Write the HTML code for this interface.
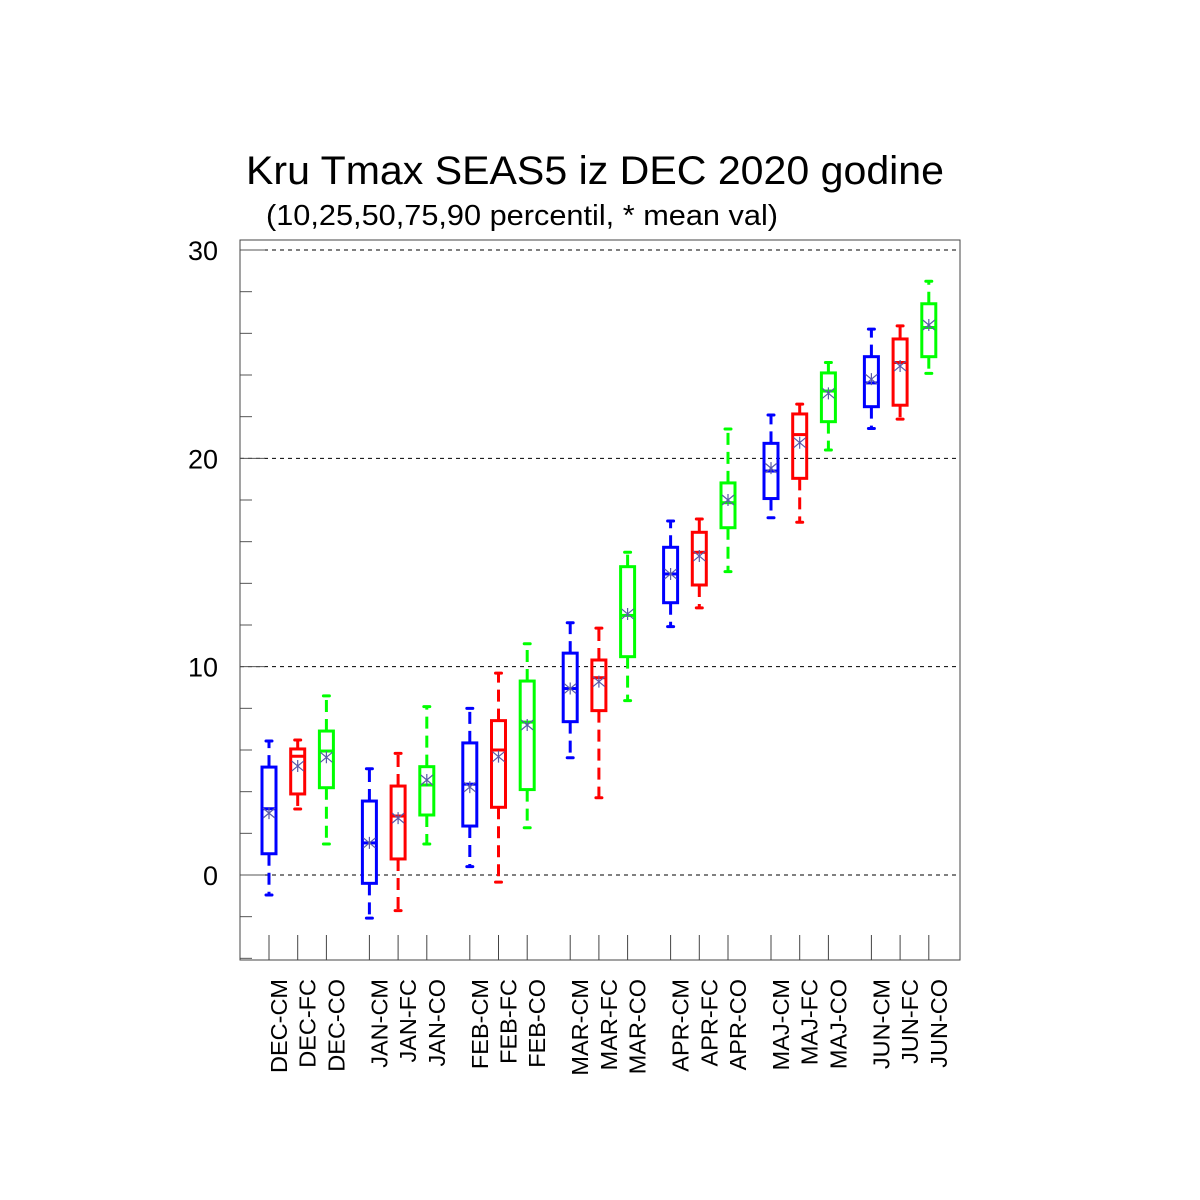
<!DOCTYPE html>
<html><head><meta charset="utf-8"><style>
html,body{margin:0;padding:0;background:#fff;}
svg{display:block;font-family:"Liberation Sans",sans-serif;}
</style></head><body>
<svg id="chart" width="1200" height="1200" viewBox="0 0 1200 1200">
<rect x="0" y="0" width="1200" height="1200" fill="#fff"/>
<text x="246" y="184" font-size="40" textLength="698" lengthAdjust="spacingAndGlyphs">Kru Tmax SEAS5 iz DEC 2020 godine</text>
<text x="266" y="225" font-size="29" textLength="512" lengthAdjust="spacingAndGlyphs">(10,25,50,75,90 percentil, * mean val)</text>
<g id="grid"></g>
<g id="axes"></g>
<g id="marks"></g>
</svg>
<script>
const categories=["DEC-CM","DEC-FC","DEC-CO","JAN-CM","JAN-FC","JAN-CO","FEB-CM","FEB-FC","FEB-CO","MAR-CM","MAR-FC","MAR-CO","APR-CM","APR-FC","APR-CO","MAJ-CM","MAJ-FC","MAJ-CO","JUN-CM","JUN-FC","JUN-CO"];
const p10=[-0.96,3.17,1.49,-2.07,-1.71,1.49,0.4,-0.34,2.27,5.63,3.71,8.37,11.92,12.82,14.56,17.15,16.93,20.4,21.43,21.88,24.08];
const p25=[1.02,3.89,4.19,-0.4,0.77,2.88,2.35,3.25,4.1,7.36,7.89,10.48,13.07,13.92,16.67,18.07,19.04,21.76,22.48,22.55,24.88];
const p50=[3.18,5.7,5.95,1.54,2.83,4.32,4.36,6.0,7.34,8.95,9.47,12.46,14.45,15.49,17.87,19.39,21.14,23.23,23.62,24.6,26.28];
const p75=[5.18,6.05,6.91,3.55,4.27,5.2,6.34,7.41,9.31,10.65,10.32,14.8,15.73,16.45,18.82,20.72,22.13,24.1,24.88,25.73,27.42];
const p90=[6.43,6.48,8.6,5.1,5.84,8.08,8.0,9.69,11.1,12.11,11.85,15.49,16.99,17.09,21.41,22.08,22.6,24.6,26.2,26.36,28.5];
const means=[2.97,5.23,5.65,1.54,2.73,4.56,4.22,5.68,7.2,8.95,9.28,12.53,14.45,15.31,18.0,19.53,20.75,23.12,23.8,24.43,26.4];
const yTicks=[0,10,20,30];
const colors=["#0000ff","#ff0000","#00ff00"];
const NS="http://www.w3.org/2000/svg";
const X0=240,X1=960,Y0=240,Y1=960;
function yScale(v){return 875-(v)*20.833;}
function xScale(i){const g=Math.floor(i/3),k=i%3;return 269+g*100.4+k*28.7;}
function mk(tag,attrs,parent){const e=document.createElementNS(NS,tag);for(const k in attrs)e.setAttribute(k,attrs[k]);parent.appendChild(e);return e;}
const grid=document.getElementById('grid'),axes=document.getElementById('axes'),marks=document.getElementById('marks');
yTicks.forEach(t=>{
 const y=yScale(t);
 const l=mk('line',{x1:X0,x2:X1,y1:y,y2:y,stroke:'#000','stroke-width':1,'stroke-dasharray':'4,4'},grid);
 
 
 const tx=mk('text',{x:218,y:y+10,'font-size':27,'text-anchor':'end'},axes);
 tx.textContent=String(t);
 
 
});
for(let v=-4;v<=30;v+=2){
 const y=yScale(v);const major=(v%10===0);
 const l=mk('line',{x1:X0,x2:X0+(major?25:12),y1:y,y2:y,stroke:'#555','stroke-width':1},axes);
 
 
}
const frame=mk('rect',{x:X0,y:Y0,width:X1-X0,height:Y1-Y0,fill:'none',stroke:'#444','stroke-width':1},axes);


categories.forEach((c,i)=>{
 const x=xScale(i),col=colors[i%3];
 const tk=mk('line',{x1:x,x2:x,y1:935,y2:Y1,stroke:'#444','stroke-width':1},axes);
 
 
 const lb=mk('text',{x:0,y:0,'font-size':23.5,'text-anchor':'end',transform:`translate(${x+18},979) rotate(-90)`},axes);
 lb.textContent=c;
 
 
 const g=mk('g',{},marks);
 
 
 mk('line',{x1:x,x2:x,y1:yScale(p75[i]),y2:yScale(p90[i]),stroke:col,'stroke-width':3,'stroke-dasharray':'12,7'},g);
 mk('line',{x1:x,x2:x,y1:yScale(p25[i]),y2:yScale(p10[i]),stroke:col,'stroke-width':3,'stroke-dasharray':'12,7'},g);
 mk('line',{x1:x-3,x2:x+3,y1:yScale(p90[i]),y2:yScale(p90[i]),stroke:col,'stroke-width':3,'stroke-linecap':'round'},g);
 mk('line',{x1:x-3,x2:x+3,y1:yScale(p10[i]),y2:yScale(p10[i]),stroke:col,'stroke-width':3,'stroke-linecap':'round'},g);
 mk('rect',{x:x-7,y:yScale(p75[i]),width:14,height:yScale(p25[i])-yScale(p75[i]),fill:'none',stroke:col,'stroke-width':3},g);
 mk('line',{x1:x-7,x2:x+7,y1:yScale(p50[i]),y2:yScale(p50[i]),stroke:col,'stroke-width':3},g);
 const my=yScale(means[i]);
 const m=mk('path',{d:`M${x-6},${my-5}L${x+6},${my+5}M${x-6},${my+5}L${x+6},${my-5}M${x},${my-6}L${x},${my+6}`,stroke:'#5a5aa8','stroke-width':1.2,fill:'none'},g);
 
 
});
</script>
</body></html>
